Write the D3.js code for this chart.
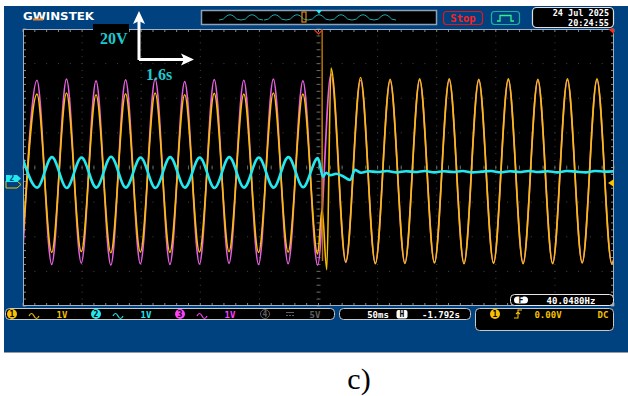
<!DOCTYPE html>
<html><head><meta charset="utf-8">
<script src="https://cdn.jsdelivr.net/npm/d3@7"></script>
<style>html,body{margin:0;padding:0;background:#fff;} svg{display:block;}</style>
</head><body><svg id="c" width="628" height="396"></svg>
<script>
const timeDomain = [-250, 250];   // ms relative to trigger, 50 ms/div x 10 div
const voltDomain = [-4, 4];       // 1 V/div x 8 div
// CH3 (magenta) turning points
const ch3T = [-250.7,-238.2,-225.7,-213.2,-200.7,-188.2,-175.7,-163.2,-150.7,-138.2,-125.7,-113.2,-100.7,-88.2,-75.7,-63.2,-50.7,-38.2,-25.7,-13.2,-0.7,
  10.6,23.1,35.6,48.1,60.6,73.1,85.6,98.1,110.6,123.1,135.6,148.1,160.6,173.1,185.6,198.1,210.6,223.1,235.6,248.1,260.6];
const ch3V = [-2.78,2.52,-2.80,2.55,-2.76,2.50,-2.82,2.53,-2.78,2.55,-2.80,2.48,-2.79,2.54,-2.77,2.52,-2.80,2.55,-2.78,2.50,-2.82,
  2.70,-2.74,2.52,-2.76,2.50,-2.76,2.52,-2.74,2.52,-2.76,2.51,-2.75,2.52,-2.76,2.51,-2.76,2.52,-2.74,2.52,-2.76,2.50];
// CH1 (yellow) turning points
const ch1T = [-250.7,-238.2,-225.7,-213.2,-200.7,-188.2,-175.7,-163.2,-150.7,-138.2,-125.7,-113.2,-100.7,-88.2,-75.7,-63.2,-50.7,-38.2,-25.7,-13.2,-0.7,
  3.0,7.0,
  10.6,23.1,35.6,48.1,60.6,73.1,85.6,98.1,110.6,123.1,135.6,148.1,160.6,173.1,185.6,198.1,210.6,223.1,235.6,248.1,260.6];
const ch1V = [-2.42,2.12,-2.45,2.15,-2.43,2.10,-2.46,2.13,-2.44,2.15,-2.45,2.10,-2.44,2.14,-2.43,2.12,-2.45,2.15,-2.44,2.12,-2.50,
  -1.2,-2.95,
  2.87,-2.72,2.60,-2.78,2.55,-2.77,2.56,-2.76,2.56,-2.78,2.55,-2.77,2.56,-2.78,2.55,-2.78,2.56,-2.76,2.56,-2.78,2.50];
// CH1 switching spike
const ch1SpikeT = [2.9, 3.1, 3.4];
const ch1SpikeV = [-1.25, 4.0, -2.7];
// CH2 (cyan) turning points
const ch2T = [-250.5,-238,-225.5,-213,-200.5,-188,-175.5,-163,-150.5,-138,-125.5,-113,-100.5,-88,-75.5,-63,-50.5,-38,-25.5,-13,-0.5,
  3.8,6.5,10,15,20,26.8,30.9,36,42,50,58,66,74,82,90,98,106,114,122,130,138,146,154,162,170,178,186,194,202,210,218,226,234,242,250];
const ch2V = [0.29,-0.58,0.30,-0.59,0.29,-0.58,0.31,-0.58,0.29,-0.59,0.30,-0.58,0.29,-0.59,0.30,-0.58,0.29,-0.58,0.30,-0.57,0.27,
  -0.27,-0.15,-0.22,-0.18,-0.24,-0.36,-0.07,-0.15,-0.11,-0.13,-0.10,-0.14,-0.11,-0.13,-0.10,-0.14,-0.11,-0.13,-0.10,-0.14,-0.12,-0.10,-0.14,-0.11,-0.13,-0.10,-0.13,-0.11,-0.14,-0.10,-0.12,-0.14,-0.10,-0.12,-0.11];
// on-screen readouts
const chanNames = ["1","2","3","4"];
const chanScales = ["1V","1V","1V","5V"];
const timebase = "50ms", hPosition = "-1.792s", trigLevel = "0.00V", trigCoupling = "DC";
const freqText = "40.0480Hz";
const dateText = ["24 Jul 2025", "20:24:55"];
const navHumps = [230, 252, 275, 297, 319, 341, 363, 385];
const annotV = "20V", annotT = "1.6s", caption = "c)";

// ---------------- drawing ----------------
const svg = d3.select("#c");
const BLUE = "#00427f";
const YEL = "#f8c000", MAG = "#e860e0", CYN = "#22e8f0";
const P = {x0: 23, x1: 614, y0: 29, y1: 306};
const x = d3.scaleLinear().domain(timeDomain).range([P.x0, P.x1]);
const y = d3.scaleLinear().domain(voltDomain).range([P.y1, P.y0]);
const mono = "'DejaVu Sans Mono', monospace";

svg.append("rect").attr("width",628).attr("height",396).attr("fill","#fff");
svg.append("rect").attr("x",4).attr("y",6).attr("width",624).attr("height",346).attr("fill",BLUE);
svg.append("line").attr("x1",4).attr("x2",628).attr("y1",352.5).attr("y2",352.5).attr("stroke","#9a9a9a").attr("stroke-width",1);

// plot background
svg.append("rect").attr("x",P.x0).attr("y",P.y0).attr("width",P.x1-P.x0).attr("height",P.y1-P.y0).attr("fill","#000");

// grid dots
const g = svg.append("g");
const majorX = d3.range(-200, 201, 50), majorY = d3.range(-3, 4, 1);
const minorX = d3.range(-250, 251, 10), minorY = d3.range(-4, 4.01, 0.2);
majorX.forEach(t => minorY.forEach(v => g.append("rect").attr("x",x(t)-0.5).attr("y",y(v)-0.5).attr("width",1).attr("height",1).attr("fill","#444")));
majorY.forEach(v => minorX.forEach(t => g.append("rect").attr("x",x(t)-0.5).attr("y",y(v)-0.5).attr("width",1).attr("height",1).attr("fill","#444")));
// center ticks
minorY.forEach(v => g.append("line").attr("x1",x(0)-2).attr("x2",x(0)+2).attr("y1",y(v)).attr("y2",y(v)).attr("stroke","#666"));
minorX.forEach(t => g.append("line").attr("x1",x(t)).attr("x2",x(t)).attr("y1",y(0)-2).attr("y2",y(0)+2).attr("stroke","#666"));
// border ticks
minorX.forEach(t => {
  g.append("line").attr("x1",x(t)).attr("x2",x(t)).attr("y1",P.y0).attr("y2",P.y0+3).attr("stroke","#8a8a8a");
  g.append("line").attr("x1",x(t)).attr("x2",x(t)).attr("y1",P.y1-3).attr("y2",P.y1).attr("stroke","#8a8a8a");
});
minorY.forEach(v => {
  g.append("line").attr("x1",P.x0).attr("x2",P.x0+3).attr("y1",y(v)).attr("y2",y(v)).attr("stroke","#8a8a8a");
  g.append("line").attr("x1",P.x1-3).attr("x2",P.x1).attr("y1",y(v)).attr("y2",y(v)).attr("stroke","#8a8a8a");
});
svg.append("rect").attr("x",P.x0+0.5).attr("y",P.y0+0.5).attr("width",P.x1-P.x0-1).attr("height",P.y1-P.y0-1)
  .attr("fill","none").attr("stroke","#9fb2c6").attr("stroke-width",1);

// traces
svg.append("clipPath").attr("id","clip").append("rect").attr("x",P.x0+1).attr("y",P.y0).attr("width",P.x1-P.x0-2).attr("height",P.y1-P.y0);
const tr = svg.append("g").attr("clip-path","url(#clip)");
const zip = (T,V) => T.map((t,i)=>[t,V[i]]);
const line = d3.line().x(d=>x(d[0])).y(d=>y(d[1])).curve(d3.curveMonotoneX);
tr.append("path").attr("d",line(zip(ch3T,ch3V))).attr("fill","none").attr("stroke",MAG).attr("stroke-width",1.7);
tr.append("path").attr("d",line(zip(ch1T,ch1V))).attr("fill","none").attr("stroke",YEL).attr("stroke-width",1.6);
tr.append("path").attr("d",d3.line().x(d=>x(d[0])).y(d=>y(d[1]))(zip(ch1SpikeT,ch1SpikeV))).attr("fill","none").attr("stroke","#b87400").attr("stroke-width",1.4);
tr.append("path").attr("d",line(zip(ch2T,ch2V))).attr("fill","none").attr("stroke",CYN).attr("stroke-width",2.6);

// trigger position marker & corner marker
svg.append("path").attr("d",`M${x(0)-4},${P.y0+1} L${x(0)},${P.y0+5} L${x(0)+4},${P.y0+1}`).attr("fill","none").attr("stroke","#e04020").attr("stroke-width",1.2);
svg.append("path").attr("d",`M${P.x1-6},${P.y0} L${P.x1},${P.y0} L${P.x1},${P.y0+5} Z`).attr("fill","#ff3010");
// right trigger-level marker
svg.append("path").attr("d",`M${P.x1-6},${y(-0.45)} L${P.x1},${y(-0.45)-4} L${P.x1},${y(-0.45)+4} Z`).attr("fill",YEL);
// left channel markers
svg.append("path").attr("d","M6,181 L17,181 L21,184.5 L17,188 L6,188 Z").attr("fill","none").attr("stroke",YEL).attr("stroke-width",1);
svg.append("path").attr("d","M6,175 L17,175 L21,178.5 L17,182 L6,182 Z").attr("fill",CYN);
svg.append("text").attr("x",12).attr("y",181).attr("text-anchor","middle").attr("font-family",mono).attr("font-weight","bold").attr("font-size",8).attr("fill",BLUE).text("2");

// F box
svg.append("rect").attr("x",510.5).attr("y",294.5).attr("width",103).attr("height",11).attr("rx",4).attr("fill","#000").attr("stroke","#e8e8e8");
svg.append("rect").attr("x",514).attr("y",296.5).attr("width",14).attr("height",7).attr("rx",3.5).attr("fill","#fff");
svg.append("text").attr("x",521).attr("y",303).attr("text-anchor","middle").attr("font-family",mono).attr("font-weight","bold").attr("font-size",8).attr("fill","#000").text("F");
svg.append("text").attr("x",571).attr("y",303.5).attr("text-anchor","middle").attr("font-family",mono).attr("font-weight","bold").attr("font-size",9).attr("fill","#fff").text(freqText);

// annotation: 20V / arrows / 1.6s
svg.append("rect").attr("x",93).attr("y",24).attr("width",36).attr("height",21).attr("fill","#000");
svg.append("text").attr("x",100).attr("y",43.5).attr("font-family","'Liberation Serif', serif").attr("font-weight","bold").attr("font-size",16).attr("fill","#1ec8d0").text(annotV);
svg.append("text").attr("x",146).attr("y",80).attr("font-family","'Liberation Serif', serif").attr("font-weight","bold").attr("font-size",16).attr("fill","#1ec8d0").text(annotT);
svg.append("path").attr("d","M139,60 L139,20 M139,59.5 L185,59.5").attr("stroke","#fff").attr("stroke-width",3).attr("fill","none");
svg.append("path").attr("d","M139,11 L145,24 L139,21 L133,24 Z").attr("fill","#fff");
svg.append("path").attr("d","M194,59.5 L181,53.5 L184,59.5 L181,65.5 Z").attr("fill","#fff");

// top bar: logo
svg.append("text").attr("x",23).attr("y",20).attr("font-family","'DejaVu Sans', sans-serif").attr("font-weight","bold").attr("font-size",11)
  .attr("textLength",71).attr("lengthAdjust","spacingAndGlyphs").attr("fill","#fff").text("GWINSTEK");
svg.append("rect").attr("x",33).attr("y",18.5).attr("width",10).attr("height",2).attr("fill","#f08020");
// nav bar
svg.append("rect").attr("x",201.5).attr("y",10.5).attr("width",235).attr("height",14).attr("fill","#000").attr("stroke","#8fa0b4").attr("stroke-width",1.5);
navHumps.forEach(c => svg.append("path").attr("d",`M${c-11},20 Q${c-6},20 ${c-4},16.5 Q${c},13 ${c+4},16.5 Q${c+6},20 ${c+11},20`).attr("fill","none").attr("stroke","#1aa8b0").attr("stroke-width",1));
svg.append("rect").attr("x",302).attr("y",12).attr("width",4).attr("height",10).attr("fill","none").attr("stroke","#e88a10").attr("stroke-width",1.2);
svg.append("path").attr("d","M316,10 L322,10 L319,14 Z").attr("fill","#30e8f0");
// stop
svg.append("rect").attr("x",443.5).attr("y",11.5).attr("width",39).attr("height",13).attr("rx",3).attr("fill",BLUE).attr("stroke","#e01818").attr("stroke-width",1.2);
svg.append("text").attr("x",463).attr("y",22).attr("text-anchor","middle").attr("font-family",mono).attr("font-weight","bold").attr("font-size",10.5).attr("fill","#ff2020").text("Stop");
// trigger icon
svg.append("rect").attr("x",491.5).attr("y",11.5).attr("width",28).attr("height",13).attr("rx",3).attr("fill",BLUE).attr("stroke","#20b0a0").attr("stroke-width",1.2);
svg.append("path").attr("d","M497,21 L500,21 L500,15.5 L511,15.5 L511,21 L514,21").attr("fill","none").attr("stroke","#30f090").attr("stroke-width",1.3);
// date
svg.append("rect").attr("x",532.5).attr("y",7.5).attr("width",81).attr("height",20).attr("rx",4).attr("fill","#000").attr("stroke","#e0e0e0").attr("stroke-width",1.2);
svg.append("text").attr("x",609).attr("y",16).attr("text-anchor","end").attr("font-family",mono).attr("font-weight","bold").attr("font-size",8.5).attr("fill","#fff").text(dateText[0]);
svg.append("text").attr("x",609).attr("y",25.5).attr("text-anchor","end").attr("font-family",mono).attr("font-weight","bold").attr("font-size",8.5).attr("fill","#fff").text(dateText[1]);

// bottom status bar
const sb = svg.append("g");
sb.append("rect").attr("x",5.5).attr("y",308.5).attr("width",329).attr("height",11).attr("rx",4).attr("fill","#000").attr("stroke","#c8c8c8");
sb.append("rect").attr("x",339.5).attr("y",308.5).attr("width",131).attr("height",11).attr("rx",4).attr("fill","#000").attr("stroke","#c8c8c8");
sb.append("rect").attr("x",475.5).attr("y",308.5).attr("width",138).attr("height",22).attr("rx",4).attr("fill","#000").attr("stroke","#c8c8c8");
const chCol = [YEL, CYN, "#ff40ff", "#606060"];
const chX = [12, 96, 180, 265];
chX.forEach((cx,i) => {
  if (i < 3) sb.append("circle").attr("cx",cx).attr("cy",314).attr("r",5).attr("fill",chCol[i]);
  else sb.append("circle").attr("cx",cx).attr("cy",314).attr("r",4.5).attr("fill","none").attr("stroke",chCol[i]);
  sb.append("text").attr("x",cx).attr("y",317.2).attr("text-anchor","middle").attr("font-family",mono).attr("font-weight","bold").attr("font-size",8).attr("fill", i<3 ? "#000" : chCol[i]).text(chanNames[i]);
  if (i < 3) sb.append("path").attr("d",`M${cx+17},316 q2.5,-5 5,0 t5,0`).attr("fill","none").attr("stroke",chCol[i]).attr("stroke-width",1.2);
  else sb.append("path").attr("d",`M${cx+21},312.5 h8 M${cx+21},315.5 h2 M${cx+24},315.5 h2 M${cx+27},315.5 h2`).attr("stroke",chCol[i]).attr("stroke-width",1.2);
  sb.append("text").attr("x",cx+50).attr("y",317.5).attr("text-anchor","middle").attr("font-family",mono).attr("font-weight","bold").attr("font-size",9).attr("fill",chCol[i]).text(chanScales[i]);
});
sb.append("text").attr("x",378).attr("y",317.5).attr("text-anchor","middle").attr("font-family",mono).attr("font-weight","bold").attr("font-size",9).attr("fill","#fff").text(timebase);
sb.append("rect").attr("x",396.5).attr("y",310).attr("width",11).attr("height",8.5).attr("rx",2).attr("fill","#fff");
sb.append("text").attr("x",402).attr("y",317.3).attr("text-anchor","middle").attr("font-family",mono).attr("font-weight","bold").attr("font-size",8).attr("fill","#000").text("H");
sb.append("text").attr("x",441).attr("y",317.5).attr("text-anchor","middle").attr("font-family",mono).attr("font-weight","bold").attr("font-size",9).attr("fill","#fff").text(hPosition);
sb.append("circle").attr("cx",495).attr("cy",314).attr("r",5).attr("fill",YEL);
sb.append("text").attr("x",495).attr("y",317.2).attr("text-anchor","middle").attr("font-family",mono).attr("font-weight","bold").attr("font-size",8).attr("fill","#000").text("1");
sb.append("path").attr("d","M514,318 L518,318 L518,310 L522,310 M516,314 L518,312 L520,314").attr("fill","none").attr("stroke",YEL).attr("stroke-width",1.1);
sb.append("text").attr("x",548).attr("y",317.5).attr("text-anchor","middle").attr("font-family",mono).attr("font-weight","bold").attr("font-size",9).attr("fill",YEL).text(trigLevel);
sb.append("text").attr("x",603).attr("y",317.5).attr("text-anchor","middle").attr("font-family",mono).attr("font-weight","bold").attr("font-size",9).attr("fill",YEL).text(trigCoupling);

// caption
svg.append("text").attr("x",359).attr("y",389).attr("text-anchor","middle").attr("font-family","'Liberation Serif', serif").attr("font-size",30).attr("fill","#000").text(caption);
</script></body></html>
